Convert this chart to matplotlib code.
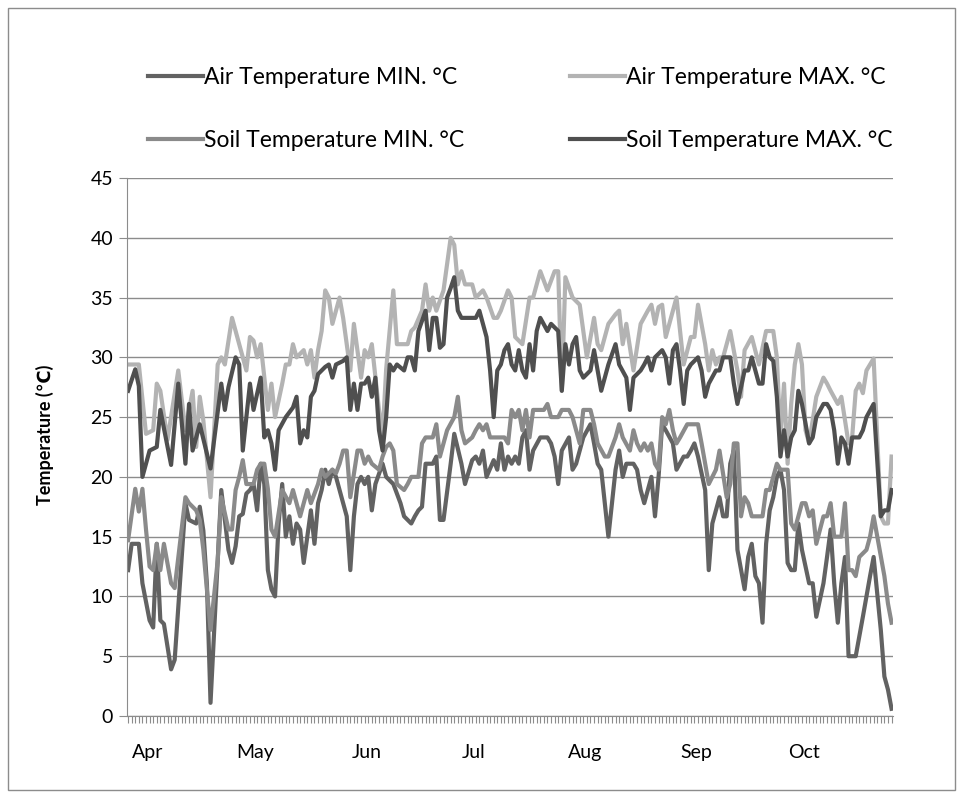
import matplotlib
matplotlib.use("Agg")
import matplotlib.pyplot as plt
from matplotlib.patches import Rectangle

# Daily readings, Apr 1 = day 0 ... Oct 31 = day 213
air_min_days = [0, 1, 3, 4, 6, 7, 8, 9, 10, 12, 13, 16, 17, 19, 20, 21, 22, 23, 26, 28, 29, 30, 31, 32, 33, 34,
                35, 36, 37, 38, 39, 40, 41, 42, 43, 44, 45, 46, 47, 48, 49, 51, 52, 53, 54, 55, 56, 57, 58, 59,
                60, 61, 62, 63, 64, 65, 66, 67, 68, 69, 71, 72,
                74, 76, 77, 79, 80, 81, 82, 83, 85, 86, 87, 88, 90, 91, 93, 94, 96, 97, 98, 99, 100, 102, 103,
                104, 105, 106, 107,
                108, 109, 110, 111, 112, 113, 115, 117, 118, 119, 120, 121, 123, 124, 125, 126, 127, 129, 130,
                131, 132, 133, 134, 136, 137, 138, 139, 141, 142, 143,
                144, 145, 146, 147, 148, 149, 150, 152, 153, 155, 156, 157, 158, 159, 161, 162, 163, 165, 166,
                167, 168, 169, 170, 172, 173, 174, 175, 176, 177, 178,
                179, 180, 181, 182, 183, 184, 185, 186, 187, 188, 190, 191, 192, 194, 195, 196, 197, 198, 199,
                200, 201, 203, 205, 207, 208, 210, 211, 212, 213]
air_min = [12.2, 14.4, 14.4, 11.1, 8.0, 7.4, 14.4, 8.0, 7.7, 3.9, 4.7, 17.8, 16.4, 16.1, 17.5, 15.5, 11.0, 1.1,
           18.9, 13.9, 12.8, 14.2, 16.7, 16.9, 18.6, 18.9,
           19.4, 17.2, 21.1, 19.4, 12.2, 10.6, 10.0, 16.1, 19.4, 15.0, 16.7, 14.4, 16.1, 15.6, 12.8, 17.2, 14.4,
           17.8, 18.9, 20.6, 19.4, 20.6, 20.0, 18.9,
           17.8, 16.7, 12.2, 16.7, 19.4, 20.0, 19.4, 20.0, 17.2, 19.4, 21.1, 20.0,
           19.4, 17.8, 16.7, 16.1, 16.7, 17.2, 17.5, 21.1, 21.1, 21.7, 16.4, 16.4, 21.1, 23.6, 21.1, 19.4, 21.4,
           21.7, 21.1, 22.2, 20.0, 21.4, 20.6, 22.8, 20.6, 21.7, 21.1,
           21.7, 21.1, 23.3, 23.9, 20.6, 22.2, 23.3, 23.3, 22.8, 21.7, 19.4, 22.2, 23.3, 20.6, 21.1, 22.2, 23.3,
           24.4, 22.8, 21.1, 20.6, 17.8, 15.0, 20.6, 22.2, 20.0, 21.1, 21.1, 20.6, 18.9,
           17.8, 18.9, 20.0, 16.7, 20.0, 24.4, 23.9, 22.8, 20.6, 21.7, 21.7, 22.2, 22.8, 21.7, 18.9, 12.2, 16.1,
           18.3, 16.7, 16.7, 21.1, 22.2, 13.9, 10.6, 13.3, 14.4, 11.7, 11.1, 7.8, 14.4,
           17.2, 18.3, 20.0, 20.6, 18.9, 12.8, 12.2, 12.2, 16.1, 13.9, 11.1, 11.1, 8.3, 11.1, 13.3, 15.6, 11.1,
           7.8, 11.1, 13.3, 5.0, 5.0, 8.3, 11.7, 13.3, 7.2, 3.3, 2.2, 0.6]

air_max_days = [0, 3, 5, 7, 8, 9, 11, 14, 16, 18, 19, 20, 21, 23, 25, 26, 27, 29, 31, 33, 34, 35,
                36, 37, 39, 40, 41, 43, 44, 45, 46, 47, 49, 50, 51, 52, 53, 54, 55, 56, 57, 58, 59, 60, 62, 63,
                65, 66, 67, 68, 70, 71,
                72, 74, 75, 78, 79, 80, 82, 83, 84, 85, 86, 88, 89, 90, 91, 92, 93, 94, 96, 97, 99, 100, 102,
                103, 104, 106, 107, 108,
                110, 112, 113, 115, 117, 119, 120, 121, 122, 124, 126, 127, 128, 130, 131, 132, 134, 136, 137,
                138, 139, 141, 143,
                145, 146, 147, 148, 149, 150, 153, 155, 157, 158, 159, 161, 162, 163, 164, 165, 166, 168, 170,
                171, 172, 174, 176, 178,
                180, 181, 182, 183, 184, 185, 186, 187, 188, 189, 190, 192, 194, 195, 196, 198, 199, 201, 202,
                203, 204, 205, 206, 207, 208, 210, 211, 212, 213]
air_max = [29.4, 29.4, 23.6, 23.9, 27.8, 27.2, 23.1, 28.9, 23.9, 27.2, 22.5, 26.7, 24.7, 18.3, 29.4, 30.0, 29.4,
           33.3, 31.1, 28.9, 31.7, 31.4,
           30.0, 31.1, 25.6, 27.8, 25.0, 27.8, 29.4, 29.4, 31.1, 30.0, 30.6, 29.4, 30.6, 28.3, 30.6, 32.2, 35.6,
           35.0, 32.8, 33.9, 35.0, 33.3, 28.9, 32.8, 28.3, 30.6, 30.0, 31.1, 25.6, 23.5,
           29.0, 35.6, 31.1, 31.1, 32.2, 32.5, 33.9, 36.1, 33.9, 35.0, 33.9, 35.6, 37.8, 40.0, 39.4, 36.1, 37.2,
           36.1, 36.1, 35.0, 35.6, 35.0, 33.3, 33.3, 33.9, 35.6, 35.0, 31.7,
           31.1, 35.0, 35.0, 37.2, 35.6, 37.2, 37.2, 27.2, 36.7, 35.0, 34.4, 32.2, 30.0, 33.3, 31.1, 30.6, 32.8,
           33.6, 33.9, 31.1, 32.8, 28.9, 32.8,
           33.9, 34.4, 32.8, 34.2, 34.4, 31.7, 35.0, 29.4, 31.7, 31.7, 34.4, 31.1, 28.9, 30.6, 29.4, 30.0, 30.0,
           32.2, 28.9, 26.7, 30.6, 31.7, 29.4, 32.2,
           32.2, 30.0, 23.3, 27.8, 21.1, 26.1, 29.4, 31.1, 29.4, 23.9, 22.8, 26.7, 28.3, 27.8, 27.2, 26.1, 26.7,
           22.8, 23.3, 27.2, 27.8, 27.0, 28.9, 29.4, 29.9, 16.7, 16.1, 16.1, 21.7]

soil_min_days = [0, 2, 3, 4, 5, 6, 7, 8, 9, 10, 12, 13, 16, 17, 19, 20, 21, 23, 25, 26, 28, 29, 30, 31, 32, 33, 35,
                 36, 37, 38, 39, 40, 41, 43, 45, 46, 47, 48, 50, 51, 53, 54, 55, 57, 58, 59, 60, 61, 62, 64, 65,
                 66, 67, 68, 70, 71,
                 72, 73, 74, 75, 77, 78, 79, 81, 82, 83, 85, 86, 87, 88, 89, 91, 92, 93, 94, 96, 97, 98, 99, 100,
                 101, 103, 105, 106, 107,
                 108, 109, 110, 111, 112, 113, 114, 116, 117, 118, 120, 121, 123, 124, 125, 126, 127, 129, 130,
                 131, 133, 134, 136, 137, 138, 140, 141, 142, 143,
                 144, 145, 146, 147, 148, 149, 150, 151, 152, 153, 154, 156, 157, 159, 160, 162, 163, 164, 165,
                 167, 168, 169, 170, 171, 172, 173, 174, 176, 177, 178,
                 179, 180, 181, 182, 183, 184, 185, 186, 188, 189, 190, 191, 192, 194, 195, 196, 197, 199, 200,
                 201, 202, 203, 204, 206, 207, 208, 211, 212, 213]
soil_min = [14.7, 19.0, 17.1, 19.0, 15.6, 12.5, 12.2, 14.4, 12.2, 14.4, 11.1, 10.7, 18.3, 17.8, 17.2, 16.4, 13.9,
            7.2, 13.0, 18.3, 15.6, 15.6, 18.9, 20.0, 21.4, 19.4, 19.4,
            20.6, 21.1, 21.1, 19.0, 15.6, 15.0, 18.9, 17.8, 18.9, 17.8, 16.7, 18.9, 17.8, 19.4, 20.6, 20.0, 20.6,
            20.3, 21.1, 22.2, 22.2, 18.3, 22.2, 22.2, 21.1, 21.7, 21.1, 20.6, 21.7,
            22.5, 22.8, 22.2, 19.4, 18.9, 19.4, 20.0, 20.0, 22.8, 23.3, 23.3, 24.4, 21.7, 22.8, 23.9, 25.0, 26.7,
            23.9, 22.8, 23.3, 23.9, 24.4, 23.9, 24.4, 23.3, 23.3, 23.3, 22.8, 25.6,
            25.0, 25.6, 23.9, 25.6, 23.3, 25.6, 25.6, 25.6, 26.1, 25.0, 25.0, 25.6, 25.6, 25.0, 23.9, 22.8, 25.6,
            25.6, 24.4, 22.8, 21.7, 21.7, 23.3, 24.4, 23.3, 22.2, 23.9, 22.8, 22.2,
            22.8, 22.2, 22.8, 21.1, 20.6, 25.0, 24.4, 25.6, 23.9, 22.8, 23.3, 24.4, 24.4, 24.4, 22.8, 19.4, 20.0,
            20.6, 22.2, 18.3, 19.4, 22.8, 22.8, 16.7, 18.3, 17.8, 16.7, 16.7, 16.7, 18.9,
            18.9, 20.0, 21.1, 20.6, 20.6, 20.6, 16.1, 15.6, 17.8, 17.8, 16.7, 17.2, 14.4, 16.7, 16.7, 17.8, 15.0,
            15.0, 17.8, 12.2, 12.2, 11.7, 13.3, 13.9, 15.0, 16.7, 11.7, 9.4, 7.8]

soil_max_days = [0, 2, 3, 4, 6, 8, 9, 12, 14, 16, 17, 18, 20, 23, 26, 27, 28, 30, 31, 32, 34, 35,
                 37, 38, 39, 40, 41, 42, 44, 46, 47, 48, 49, 50, 51, 52, 53, 55, 56, 57, 58, 60, 61, 62, 63, 64,
                 65, 66, 67, 68, 69, 70, 71,
                 72, 73, 74, 75, 77, 78, 79, 80, 81, 83, 84, 85, 86, 87, 88, 89, 90, 91, 92, 93, 95, 97, 98, 100,
                 101, 102, 103, 104, 105, 106, 107, 108,
                 109, 110, 111, 112, 113, 114, 115, 117, 118, 120, 121, 122, 123, 124, 125, 126, 127, 129, 130,
                 132, 134, 136, 137, 139, 140, 141, 143,
                 144, 145, 146, 147, 148, 149, 150, 151, 152, 153, 154, 155, 156, 157, 159, 160, 161, 162, 164,
                 165, 166, 168, 169, 170, 172, 173, 174, 176, 177, 178,
                 179, 180, 181, 182, 183, 184, 185, 186, 187, 188, 190, 191, 192, 194, 195, 196, 197, 198, 199,
                 200, 201, 202, 204, 205, 206, 208, 210, 211, 212, 213]
soil_max = [27.2, 29.0, 27.6, 20.0, 22.2, 22.5, 25.6, 21.0, 27.8, 21.1, 26.1, 22.2, 24.4, 20.7, 27.8, 25.6, 27.5,
            30.0, 29.4, 22.2, 27.8, 25.6,
            28.3, 23.3, 23.9, 22.8, 20.6, 23.9, 25.0, 25.8, 26.7, 22.8, 23.9, 23.3, 26.7, 27.2, 28.6, 29.2, 29.4,
            28.3, 29.4, 29.7, 30.0, 25.6, 27.8, 25.6, 27.8, 27.8, 28.3, 26.7, 28.3, 23.9, 22.2,
            25.0, 29.4, 28.9, 29.4, 28.9, 30.0, 30.0, 28.9, 32.2, 33.9, 30.6, 33.3, 33.3, 30.8, 31.1, 35.0, 35.8,
            36.7, 33.9, 33.3, 33.3, 33.3, 33.9, 31.7, 28.9, 25.0, 28.9, 29.4, 30.6, 31.1, 29.4, 28.9,
            30.6, 28.9, 28.3, 31.1, 28.9, 32.2, 33.3, 32.2, 32.8, 32.2, 27.2, 31.1, 29.4, 31.1, 31.7, 28.9, 28.3,
            28.9, 30.6, 27.2, 29.4, 31.1, 29.4, 28.3, 25.6, 28.3, 28.9,
            29.4, 30.0, 28.9, 30.0, 30.3, 30.6, 30.0, 27.8, 30.6, 31.1, 28.9, 26.1, 28.9, 29.4, 30.0, 28.9, 26.7,
            27.8, 28.9, 28.9, 30.0, 30.0, 27.8, 26.1, 28.9, 28.9, 30.0, 27.8, 27.8, 31.1,
            30.0, 29.7, 26.7, 21.7, 23.9, 21.7, 23.3, 23.9, 27.2, 26.1, 22.8, 23.3, 25.0, 26.1, 26.1, 25.6, 23.9,
            21.1, 23.3, 22.8, 21.1, 23.3, 23.3, 23.9, 25.0, 26.1, 16.7, 17.2, 17.2, 18.9]

months = ['Apr', 'May', 'Jun', 'Jul', 'Aug', 'Sep', 'Oct']
month_start = [0, 30, 61, 91, 122, 153, 183]
n_days = 214

plt.rcParams['font.family'] = ['Lato', 'DejaVu Sans']

fig = plt.figure(figsize=(9.6, 7.95), dpi=100)
ax = fig.add_axes([0.1323, 0.0994, 0.7979, 0.6767])

lw = 3.0
l1, = ax.plot(air_min_days, air_min, color='#626262', lw=lw, label='Air Temperature MIN. °C')
l2, = ax.plot(air_max_days, air_max, color='#b3b3b3', lw=lw, label='Air Temperature MAX. °C')
l3, = ax.plot(soil_min_days, soil_min, color='#8a8a8a', lw=lw, label='Soil Temperature MIN. °C')
l4, = ax.plot(soil_max_days, soil_max, color='#4f4f4f', lw=lw, label='Soil Temperature MAX. °C')

ax.set_ylim(0, 45)
ax.set_xlim(-0.3, n_days - 0.6)
ax.set_yticks(range(0, 46, 5))
ax.yaxis.grid(True, color='#8c8c8c', lw=1)
ax.set_axisbelow(True)
for s in ['top', 'right']:
    ax.spines[s].set_visible(False)
for s in ['left', 'bottom']:
    ax.spines[s].set_color('#8c8c8c')
ax.tick_params(axis='y', labelsize=14, length=6, color='#8c8c8c', pad=4)

ax.set_xticks([m + 5.5 for m in month_start])
ax.set_xticklabels(months, fontsize=14)
ax.tick_params(axis='x', length=0, pad=20)
ax.set_xticks(range(n_days), minor=True)
ax.tick_params(axis='x', which='minor', length=5, color='#8c8c8c', width=0.8)

fig.text(45 / 960, 0.453, 'Temperature (℃)', rotation=90, fontsize=13, fontweight='bold',
         ha='center', va='center')

fig.legend([l1, l3, l2, l4], [l1.get_label(), l3.get_label(), l2.get_label(), l4.get_label()],
           ncol=2, loc='upper left', bbox_to_anchor=(0.133, 0.942), frameon=False,
           fontsize=16.5, handlelength=2.4, handletextpad=0.05, columnspacing=4.6, labelspacing=1.85)

fig.patches.append(Rectangle((8 / 960, 5 / 795), 947 / 960, 782 / 795, transform=fig.transFigure,
                             fill=False, edgecolor='#8c8c8c', lw=1))

fig.savefig('out.png', dpi=100)
